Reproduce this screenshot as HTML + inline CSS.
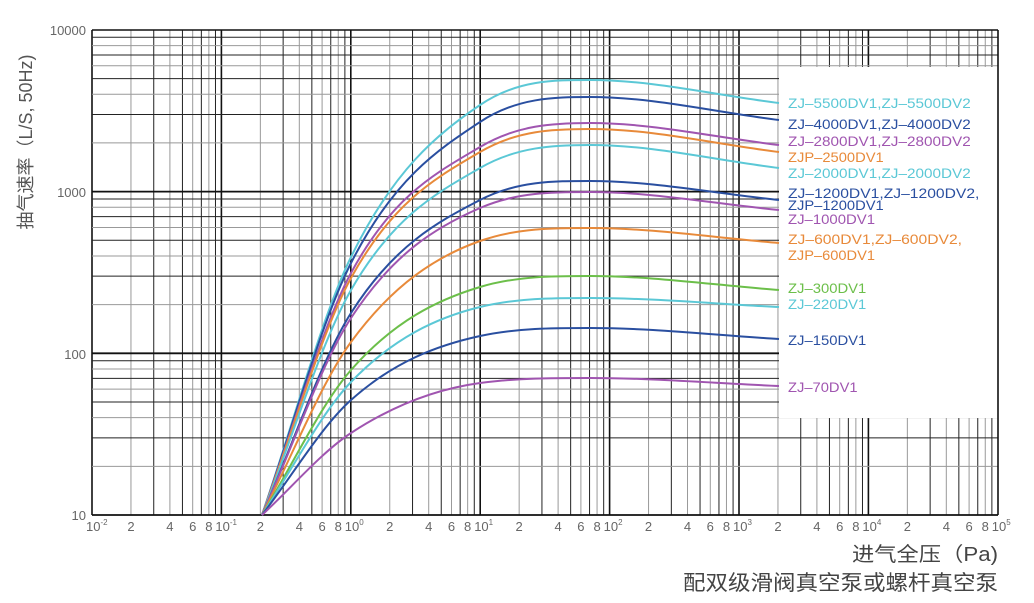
<!DOCTYPE html>
<html><head><meta charset="utf-8"><style>
body{margin:0;background:#fff;width:1034px;height:603px;overflow:hidden}
svg{display:block}
text{font-family:"Liberation Sans","Noto Sans CJK SC",sans-serif}
</style></head><body>
<svg id="s" width="1034" height="603" xmlns="http://www.w3.org/2000/svg"></svg>
<script>
const s=document.getElementById('s');let h='';
const X0=92,DX=129.4,Y0=515,DY=161.7;
const xp=v=>X0+(Math.log10(v)+2)*DX, yp=v=>Y0-(Math.log10(v)-1)*DY;
for(let d=-2;d<5;d++)for(let m=1;m<10;m++){const x=xp(m*Math.pow(10,d));h+=`<line x1="${x}" y1="30" x2="${x}" y2="515" stroke="${m==1?'#111':(m%2==0?'#999':'#222')}" stroke-width="${m==1?1.6:1}"/>`;}
for(let d=1;d<4;d++)for(let m=1;m<10;m++){const y=yp(m*Math.pow(10,d));h+=`<line x1="92" y1="${y}" x2="998" y2="${y}" stroke="${m==1?'#111':(m%2==0?'#999':'#222')}" stroke-width="${m==1?1.8:1}"/>`;}
h+=`<line x1="92" y1="30" x2="998" y2="30" stroke="#111" stroke-width="1.6"/>`;
h+=`<rect x="779" y="67" width="219" height="351" fill="#fff"/>`;
h+=`<line x1="998" y1="30" x2="998" y2="515" stroke="#111" stroke-width="1.6"/>`;
[['10000',30],['1000',192],['100',354],['10',515]].forEach(([t,y])=>h+=`<text x="86" y="${y+5}" font-size="13" fill="#666" text-anchor="end">${t}</text>`);
const xl=[];for(let d=-2;d<=5;d++){xl.push([xp(Math.pow(10,d)),'10',d]);if(d<5){xl.push([xp(2*Math.pow(10,d)),'2']);xl.push([xp(4*Math.pow(10,d)),'4']);xl.push([xp(6*Math.pow(10,d)),'6']);xl.push([xp(8*Math.pow(10,d)),'8']);}}
xl.forEach(a=>{if(a.length==3){h+=`<text x="${a[0]-6}" y="531" font-size="13" fill="#666">10<tspan dy="-6" font-size="8">${a[2]}</tspan></text>`}else h+=`<text x="${a[0]}" y="531" font-size="13" fill="#666" text-anchor="middle">${a[1]}</text>`});
const C=[['#5bc8d6',[257,105,80,103]],['#2a4fa0',[263,122,97,120]],['#a055b0',[273,147,123,145]],['#e88a3a',[278,152,129,152]],['#5bc8d6',[290,168,145,168]],['#2a4fa0',[313,200,181,200]],['#a055b0',[318,208,192,210]],['#e88a3a',[342,241,228,243]],['#6cbf4a',[370,287,276,290]],['#5bc8d6',[382,307,298,307]],['#2a4fa0',[400,336,328,339]],['#a055b0',[433,383,378,386]]];
const xs=[262,351,480,590,779];
function mono(P){const n=P.length,dl=[],m=[];
for(let i=0;i<n-1;i++)dl.push((P[i+1][1]-P[i][1])/(P[i+1][0]-P[i][0]));
m[0]=dl[0];m[n-1]=dl[n-2];
for(let i=1;i<n-1;i++){m[i]=(dl[i-1]*dl[i]<=0)?0:(dl[i-1]+dl[i])/2;}
for(let i=0;i<n-1;i++){if(dl[i]==0){m[i]=m[i+1]=0;continue;}const a=m[i]/dl[i],b=m[i+1]/dl[i],t=a*a+b*b;if(t>9){const k=3/Math.sqrt(t);m[i]=k*a*dl[i];m[i+1]=k*b*dl[i];}}
let d=`M${P[0][0]},${P[0][1]}`;
for(let i=0;i<n-1;i++){const w=(P[i+1][0]-P[i][0])/3;d+=` C${P[i][0]+w},${P[i][1]+m[i]*w} ${P[i+1][0]-w},${P[i+1][1]-m[i+1]*w} ${P[i+1][0]},${P[i+1][1]}`;}
return d;}
C.forEach(([c,ys])=>{const P=[[262,515]];ys.forEach((y,i)=>P.push([xs[i+1],y]));
h+=`<path d="${mono(P)}" fill="none" stroke="${c}" stroke-width="2"/>`;});
[['#5bc8d6',108,'ZJ–5500DV1,ZJ–5500DV2'],['#2a4fa0',129,'ZJ–4000DV1,ZJ–4000DV2'],['#a055b0',146,'ZJ–2800DV1,ZJ–2800DV2'],['#e88a3a',162,'ZJP–2500DV1'],['#5bc8d6',178,'ZJ–2000DV1,ZJ–2000DV2'],['#2a4fa0',198,'ZJ–1200DV1,ZJ–1200DV2,'],['#2a4fa0',210,'ZJP–1200DV1'],['#a055b0',224,'ZJ–1000DV1'],['#e88a3a',244,'ZJ–600DV1,ZJ–600DV2,'],['#e88a3a',260,'ZJP–600DV1'],['#6cbf4a',293,'ZJ–300DV1'],['#5bc8d6',309,'ZJ–220DV1'],['#2a4fa0',345,'ZJ–150DV1'],['#a055b0',392,'ZJ–70DV1']].forEach(([c,y,t])=>h+=`<text x="788" y="${y}" font-size="14" fill="${c}" textLength="${t.length*8.7}" lengthAdjust="spacingAndGlyphs">${t}</text>`);
h+=`<text transform="translate(32,142) rotate(-90)" font-size="18" fill="#555" text-anchor="middle">抽气速率（L/S, 50Hz)</text>`;
h+=`<text x="998" y="561" font-size="20" fill="#444" text-anchor="end" textLength="146" lengthAdjust="spacingAndGlyphs">进气全压（Pa)</text>`;
h+=`<text x="998" y="590" font-size="21" fill="#444" text-anchor="end" textLength="315" lengthAdjust="spacingAndGlyphs">配双级滑阀真空泵或螺杆真空泵</text>`;
s.innerHTML=h;
</script>
</body></html>
